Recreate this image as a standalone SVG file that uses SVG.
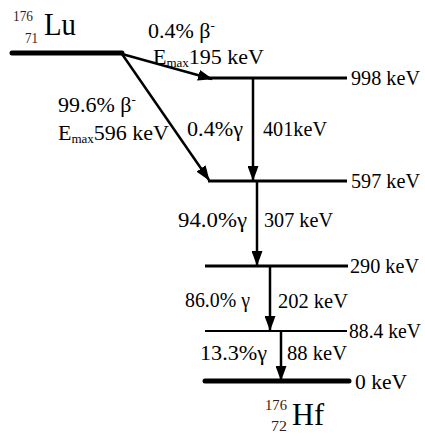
<svg xmlns="http://www.w3.org/2000/svg" width="425" height="436" viewBox="0 0 425 436">
<style>
text{font-family:"Liberation Serif","Times New Roman","DejaVu Serif",serif}
.t{font-size:22px}
.s{font-size:13px}
.iso{font-size:14px;fill:#3a1a10}
.big{font-size:32px}
.lvl{stroke:#000;stroke-width:3;fill:none}
.arr{stroke:#000;stroke-width:2.5;fill:none;marker-end:url(#ah)}
</style>
<defs>
<marker id="ah" viewBox="0 0 15 11" refX="14" refY="5.5" markerWidth="15" markerHeight="11" markerUnits="userSpaceOnUse" orient="auto">
<path d="M0,0 L15,5.5 L0,11 z" fill="#000"/>
</marker>
</defs>
<g id="lu">
<line x1="12" y1="53" x2="122" y2="53" stroke="#000" stroke-width="5" stroke-linecap="round"/>
<text class="iso" x="13" y="21" textLength="20" lengthAdjust="spacingAndGlyphs">176</text>
<text class="iso" x="25" y="43" textLength="13" lengthAdjust="spacingAndGlyphs">71</text>
<text class="big" x="44" y="35" textLength="32" lengthAdjust="spacingAndGlyphs">Lu</text>
</g>
<g id="l998">
<line class="lvl" x1="208" y1="78" x2="347" y2="78"/>
<text class="t" x="351" y="85" textLength="69" lengthAdjust="spacingAndGlyphs">998 keV</text>
</g>
<g id="l597">
<line class="lvl" x1="208" y1="181" x2="347" y2="181"/>
<text class="t" x="351" y="188" textLength="69" lengthAdjust="spacingAndGlyphs">597 keV</text>
</g>
<g id="l290">
<line class="lvl" x1="205" y1="266" x2="348" y2="266"/>
<text class="t" x="350" y="273" textLength="69" lengthAdjust="spacingAndGlyphs">290 keV</text>
</g>
<g id="l884">
<line x1="205" y1="331" x2="347" y2="331" stroke="#000" stroke-width="2"/>
<text x="349" y="338" font-size="20" textLength="72" lengthAdjust="spacingAndGlyphs">88.4 keV</text>
</g>
<g id="l0">
<line x1="205" y1="381" x2="349" y2="381" stroke="#000" stroke-width="5" stroke-linecap="round"/>
<text class="t" x="355" y="389" textLength="52" lengthAdjust="spacingAndGlyphs">0 keV</text>
</g>
<g id="hf">
<text class="iso" x="265" y="410" textLength="22" lengthAdjust="spacingAndGlyphs">176</text>
<text class="iso" x="271" y="431" textLength="16" lengthAdjust="spacingAndGlyphs">72</text>
<text class="big" x="292" y="425" textLength="32" lengthAdjust="spacingAndGlyphs">Hf</text>
</g>
<g id="connectors">
<line class="arr" x1="122" y1="54" x2="212" y2="79"/>
<line class="arr" x1="122" y1="54" x2="209" y2="180"/>
<line class="arr" x1="253" y1="79" x2="253" y2="180"/>
<line class="arr" x1="257" y1="181" x2="257" y2="265"/>
<line class="arr" x1="270" y1="266" x2="270" y2="330"/>
<line class="arr" x1="281" y1="331" x2="281" y2="380"/>
</g>
<g id="labels">
<text class="t" x="148" y="38">0.4% β<tspan class="s" dy="-8">-</tspan></text>
<text class="t" x="153" y="64">E<tspan class="s" dy="3">max</tspan><tspan dy="-3">195 keV</tspan></text>
<text class="t" x="58" y="112">99.6% β<tspan class="s" dy="-8">-</tspan></text>
<text class="t" x="58" y="140">E<tspan class="s" dy="3">max</tspan><tspan dy="-3">596 keV</tspan></text>
<text class="t" x="187" y="136" textLength="56" lengthAdjust="spacingAndGlyphs">0.4%γ</text>
<text class="t" x="263" y="136" textLength="64" lengthAdjust="spacingAndGlyphs">401keV</text>
<text class="t" x="178" y="227" textLength="69" lengthAdjust="spacingAndGlyphs">94.0%γ</text>
<text class="t" x="264" y="227" textLength="69" lengthAdjust="spacingAndGlyphs">307 keV</text>
<text class="t" x="185" y="307" textLength="65" lengthAdjust="spacingAndGlyphs">86.0% γ</text>
<text class="t" x="278" y="308" textLength="70" lengthAdjust="spacingAndGlyphs">202 keV</text>
<text class="t" x="200" y="360" textLength="67" lengthAdjust="spacingAndGlyphs">13.3%γ</text>
<text class="t" x="287" y="360" textLength="60" lengthAdjust="spacingAndGlyphs">88 keV</text>
</g>
</svg>
